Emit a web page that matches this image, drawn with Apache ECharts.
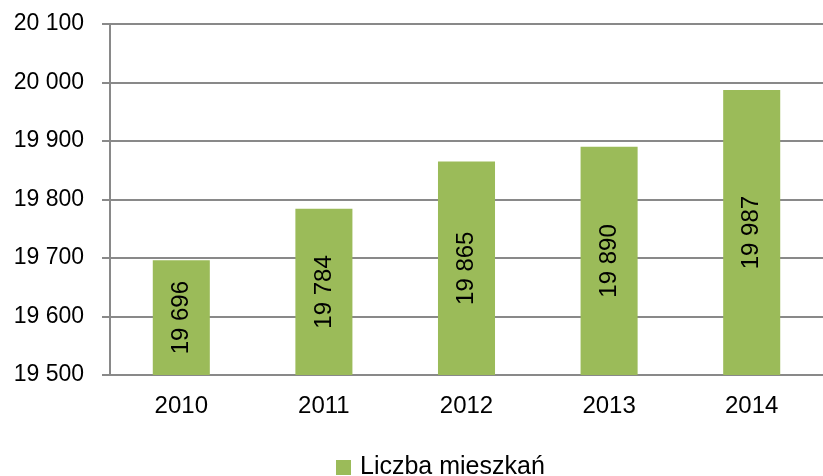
<!DOCTYPE html>
<html>
<head>
<meta charset="utf-8">
<script src="https://cdn.jsdelivr.net/npm/echarts@6/dist/echarts.min.js"></script>
<style>
  html, body { margin: 0; padding: 0; background: #fff; }
  #chart { width: 823px; height: 476px; }
</style>
</head>
<body>
<div id="chart"></div>
<script>
  // dane
  var years = ['2010', '2011', '2012', '2013', '2014'];
  var mieszkania = [19696, 19784, 19865, 19890, 19987];
  var seriesName = 'Liczba mieszkań';

  function fmt(v) {
    return String(v).replace(/\B(?=(\d{3})+(?!\d))/g, ' ');
  }

  var font = 'Liberation Sans';
  var gray = '#898989';

  var myChart = echarts.init(document.getElementById('chart'));
  var option = {
    animation: false,
    textStyle: { fontFamily: font },
    grid: { left: 110, right: -4, top: 24, bottom: 101 },
    legend: {
      bottom: -9,
      left: 331,
      icon: 'rect',
      itemWidth: 15,
      itemHeight: 15,
      textStyle: { fontFamily: font, fontSize: 25, color: '#000', padding: [0, 0, 0, 4] },
      data: [seriesName]
    },
    xAxis: {
      type: 'category',
      data: years,
      axisLine: { lineStyle: { color: gray, width: 2 } },
      axisTick: { length: 8, lineStyle: { color: gray, width: 2 } },
      axisLabel: { color: '#000', fontSize: 24, margin: 19, fontFamily: font },
      splitLine: { show: false }
    },
    yAxis: {
      type: 'value',
      min: 19500,
      max: 20100,
      interval: 100,
      axisLine: { show: true, lineStyle: { color: gray, width: 2 } },
      axisTick: { show: true, length: 8, lineStyle: { color: gray, width: 2 } },
      axisLabel: { color: '#000', fontSize: 23, margin: 26, fontFamily: font, formatter: fmt },
      splitLine: { show: true, lineStyle: { color: gray, width: 2 } }
    },
    series: [{
      name: seriesName,
      type: 'bar',
      data: mieszkania,
      barWidth: '40%',
      itemStyle: { color: '#9BBB59' },
      label: {
        show: true,
        position: 'inside',
        rotate: 90,
        color: '#000',
        fontSize: 24,
        fontFamily: font,
        formatter: function (p) { return fmt(p.value); }
      }
    }]
  };
  myChart.setOption(option);
</script>
</body>
</html>
